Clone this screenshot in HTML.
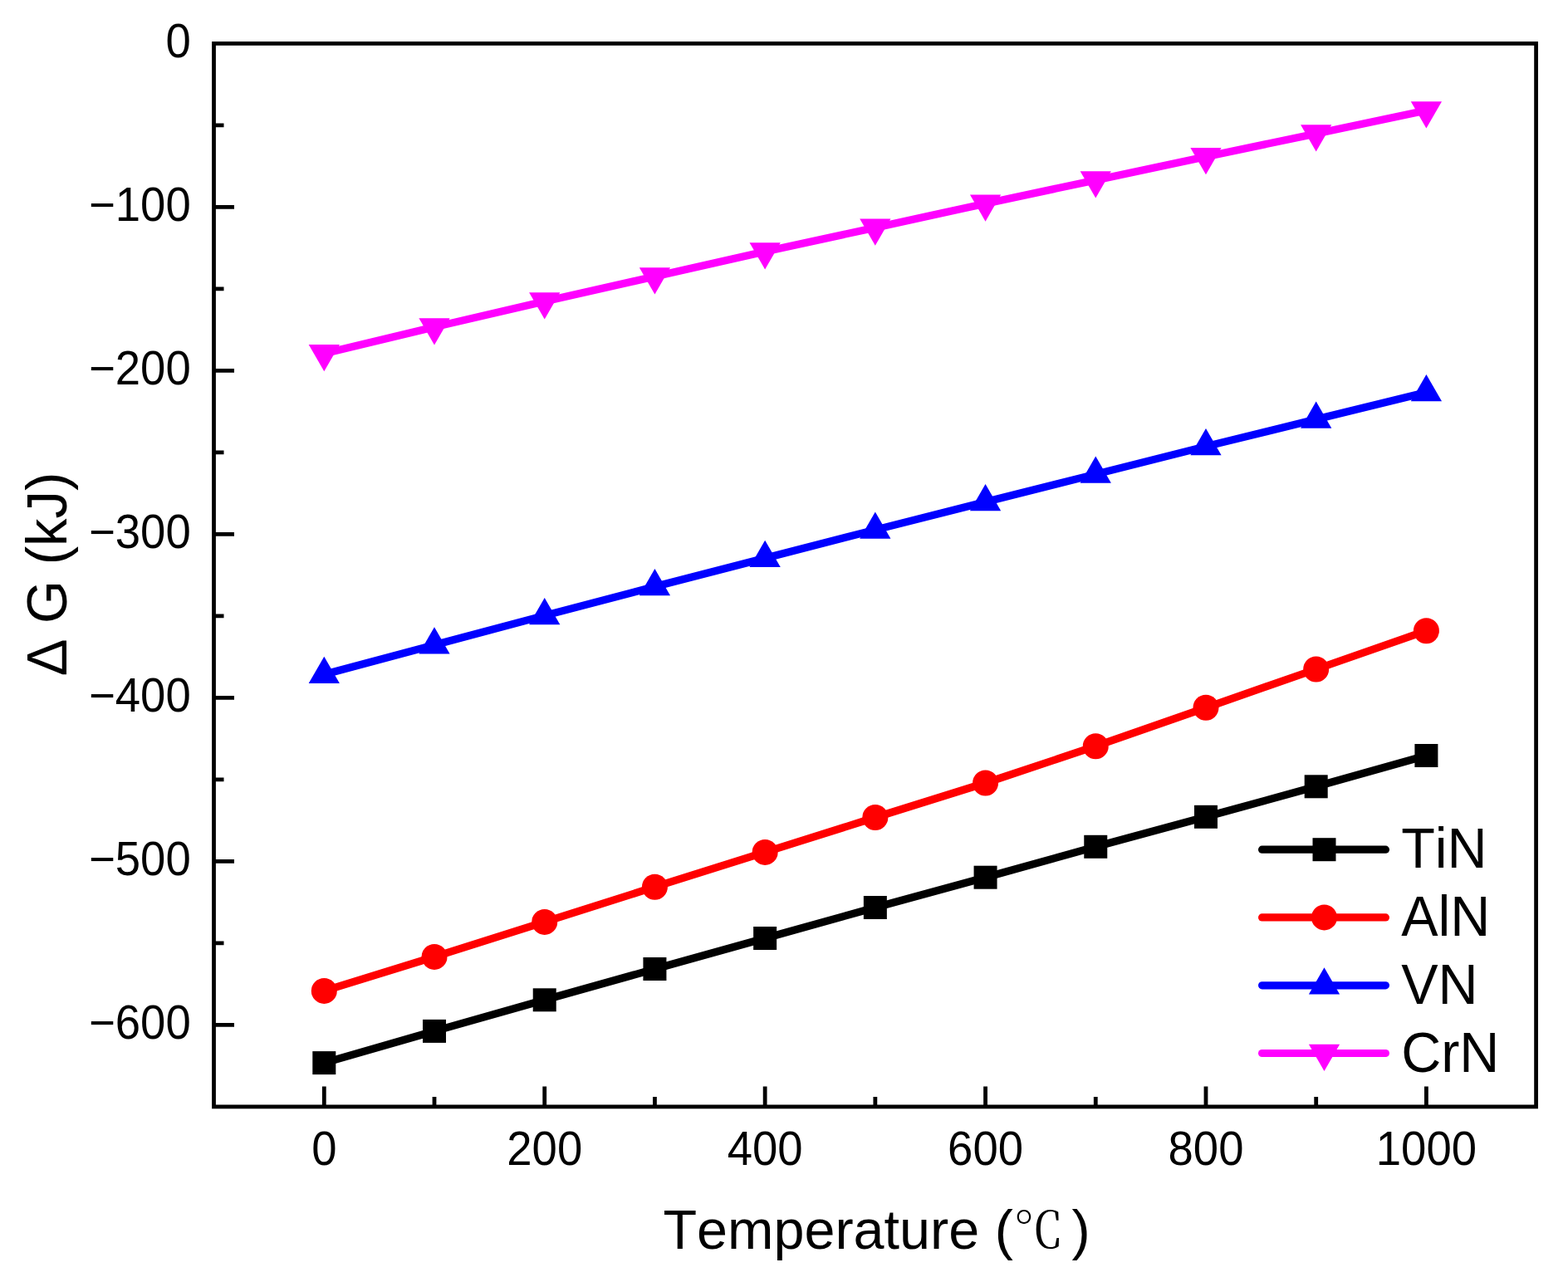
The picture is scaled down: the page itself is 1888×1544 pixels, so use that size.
<!DOCTYPE html><html><head><meta charset="utf-8"><title>Delta G vs Temperature</title><style>
html,body{margin:0;padding:0;background:#fff;overflow:hidden;}svg{display:block;}
text{font-family:"Liberation Sans",Arial,sans-serif;fill:#000;font-kerning:none;font-feature-settings:"kern" 0;}
</style></head><body>
<svg width="1888" height="1544" viewBox="0 0 1888 1544">
<rect width="1888" height="1544" fill="#fff"/>
<polyline points="390.3,1280.1 523.01,1241.9 655.72,1204.3 788.43,1167 921.14,1130 1053.85,1093 1186.56,1056.7 1319.27,1019.8 1451.98,983.8 1584.69,947.3 1717.4,910" fill="none" stroke="#000000" stroke-width="9.2" stroke-linejoin="round" stroke-linecap="butt"/>
<rect x="376.3" y="1266.1" width="28" height="28" fill="#000000"/>
<rect x="509.01" y="1227.9" width="28" height="28" fill="#000000"/>
<rect x="641.72" y="1190.3" width="28" height="28" fill="#000000"/>
<rect x="774.43" y="1153" width="28" height="28" fill="#000000"/>
<rect x="907.14" y="1116" width="28" height="28" fill="#000000"/>
<rect x="1039.85" y="1079" width="28" height="28" fill="#000000"/>
<rect x="1172.56" y="1042.7" width="28" height="28" fill="#000000"/>
<rect x="1305.27" y="1005.8" width="28" height="28" fill="#000000"/>
<rect x="1437.98" y="969.8" width="28" height="28" fill="#000000"/>
<rect x="1570.69" y="933.3" width="28" height="28" fill="#000000"/>
<rect x="1703.4" y="896" width="28" height="28" fill="#000000"/>
<polyline points="390.3,1193.4 523.01,1152.4 655.72,1110.4 788.43,1068.2 921.14,1026.4 1053.85,984.5 1186.56,943 1319.27,898.7 1451.98,852.3 1584.69,806 1717.4,759.7" fill="none" stroke="#FF0000" stroke-width="9.2" stroke-linejoin="round" stroke-linecap="butt"/>
<circle cx="390.3" cy="1193.4" r="15.5" fill="#FF0000"/>
<circle cx="523.01" cy="1152.4" r="15.5" fill="#FF0000"/>
<circle cx="655.72" cy="1110.4" r="15.5" fill="#FF0000"/>
<circle cx="788.43" cy="1068.2" r="15.5" fill="#FF0000"/>
<circle cx="921.14" cy="1026.4" r="15.5" fill="#FF0000"/>
<circle cx="1053.85" cy="984.5" r="15.5" fill="#FF0000"/>
<circle cx="1186.56" cy="943" r="15.5" fill="#FF0000"/>
<circle cx="1319.27" cy="898.7" r="15.5" fill="#FF0000"/>
<circle cx="1451.98" cy="852.3" r="15.5" fill="#FF0000"/>
<circle cx="1584.69" cy="806" r="15.5" fill="#FF0000"/>
<circle cx="1717.4" cy="759.7" r="15.5" fill="#FF0000"/>
<polyline points="390.3,812.2 523.01,776.7 655.72,741.4 788.43,706.5 921.14,672.2 1053.85,638.1 1186.56,604.5 1319.27,571.1 1451.98,537.6 1584.69,505.05 1717.4,472.5" fill="none" stroke="#0000FF" stroke-width="9.2" stroke-linejoin="round" stroke-linecap="butt"/>
<polygon points="390.3,790.7 408.92,822.95 371.68,822.95" fill="#0000FF"/>
<polygon points="523.01,755.2 541.63,787.45 504.39,787.45" fill="#0000FF"/>
<polygon points="655.72,719.9 674.34,752.15 637.1,752.15" fill="#0000FF"/>
<polygon points="788.43,685 807.05,717.25 769.81,717.25" fill="#0000FF"/>
<polygon points="921.14,650.7 939.76,682.95 902.52,682.95" fill="#0000FF"/>
<polygon points="1053.85,616.6 1072.47,648.85 1035.23,648.85" fill="#0000FF"/>
<polygon points="1186.56,583 1205.18,615.25 1167.94,615.25" fill="#0000FF"/>
<polygon points="1319.27,549.6 1337.89,581.85 1300.65,581.85" fill="#0000FF"/>
<polygon points="1451.98,516.1 1470.6,548.35 1433.36,548.35" fill="#0000FF"/>
<polygon points="1584.69,483.55 1603.31,515.8 1566.07,515.8" fill="#0000FF"/>
<polygon points="1717.4,451 1736.02,483.25 1698.78,483.25" fill="#0000FF"/>
<polyline points="390.3,425.8 523.01,393.9 655.72,362.9 788.43,333.05 921.14,303 1053.85,274.15 1186.56,245.15 1319.27,216.95 1451.98,188.7 1584.69,161 1717.4,132.9" fill="none" stroke="#FF00FF" stroke-width="9.2" stroke-linejoin="round" stroke-linecap="butt"/>
<polygon points="390.3,447.3 408.92,415.05 371.68,415.05" fill="#FF00FF"/>
<polygon points="523.01,415.4 541.63,383.15 504.39,383.15" fill="#FF00FF"/>
<polygon points="655.72,384.4 674.34,352.15 637.1,352.15" fill="#FF00FF"/>
<polygon points="788.43,354.55 807.05,322.3 769.81,322.3" fill="#FF00FF"/>
<polygon points="921.14,324.5 939.76,292.25 902.52,292.25" fill="#FF00FF"/>
<polygon points="1053.85,295.65 1072.47,263.4 1035.23,263.4" fill="#FF00FF"/>
<polygon points="1186.56,266.65 1205.18,234.4 1167.94,234.4" fill="#FF00FF"/>
<polygon points="1319.27,238.45 1337.89,206.2 1300.65,206.2" fill="#FF00FF"/>
<polygon points="1451.98,210.2 1470.6,177.95 1433.36,177.95" fill="#FF00FF"/>
<polygon points="1584.69,182.5 1603.31,150.25 1566.07,150.25" fill="#FF00FF"/>
<polygon points="1717.4,154.4 1736.02,122.15 1698.78,122.15" fill="#FF00FF"/>
<rect x="257.5" y="52.4" width="1592.1" height="1280.5" fill="none" stroke="#000" stroke-width="4.8"/>
<path d="M257.5 150.9H269.5M257.5 249.4H282M257.5 347.9H269.5M257.5 446.4H282M257.5 544.9H269.5M257.5 643.4H282M257.5 741.9H269.5M257.5 840.4H282M257.5 938.9H269.5M257.5 1037.4H282M257.5 1135.9H269.5M257.5 1234.4H282M390.3 1332.9V1308.4M523.01 1332.9V1320.9M655.72 1332.9V1308.4M788.43 1332.9V1320.9M921.14 1332.9V1308.4M1053.85 1332.9V1320.9M1186.56 1332.9V1308.4M1319.27 1332.9V1320.9M1451.98 1332.9V1308.4M1584.69 1332.9V1320.9M1717.4 1332.9V1308.4" stroke="#000" stroke-width="4.8" fill="none"/>
<text transform="translate(229.7 69) scale(1 1.04)" font-size="54.5" text-anchor="end">0</text>
<text transform="translate(229.7 266) scale(1 1.04)" font-size="54.5" text-anchor="end">−100</text>
<text transform="translate(229.7 463) scale(1 1.04)" font-size="54.5" text-anchor="end">−200</text>
<text transform="translate(229.7 660) scale(1 1.04)" font-size="54.5" text-anchor="end">−300</text>
<text transform="translate(229.7 857) scale(1 1.04)" font-size="54.5" text-anchor="end">−400</text>
<text transform="translate(229.7 1054) scale(1 1.04)" font-size="54.5" text-anchor="end">−500</text>
<text transform="translate(229.7 1251) scale(1 1.04)" font-size="54.5" text-anchor="end">−600</text>
<text transform="translate(390.3 1402.9) scale(1 1.04)" font-size="54.5" text-anchor="middle">0</text>
<text transform="translate(655.72 1402.9) scale(1 1.04)" font-size="54.5" text-anchor="middle">200</text>
<text transform="translate(921.14 1402.9) scale(1 1.04)" font-size="54.5" text-anchor="middle">400</text>
<text transform="translate(1186.56 1402.9) scale(1 1.04)" font-size="54.5" text-anchor="middle">600</text>
<text transform="translate(1451.98 1402.9) scale(1 1.04)" font-size="54.5" text-anchor="middle">800</text>
<text transform="translate(1717.4 1402.9) scale(1 1.04)" font-size="54.5" text-anchor="middle">1000</text>
<text transform="translate(798.5 1504.3)" font-size="66.5" text-anchor="start">Temperature (</text>
<text transform="translate(1220.2 1503.3)" font-size="60.5" style="font-family:'Liberation Serif','Noto Serif CJK SC',serif">℃</text>
<text transform="translate(1290.5 1504.3)" font-size="66.5" text-anchor="start">)</text>
<text transform="translate(80.0 691.5) rotate(-90) scale(1 1.02)" font-size="67" text-anchor="middle">Δ G (kJ)</text>
<line x1="1519.6" y1="1023.2" x2="1668.4" y2="1023.2" stroke="#000000" stroke-width="9.2" stroke-linecap="round"/>
<rect x="1580.5" y="1009.2" width="28" height="28" fill="#000000"/>
<text transform="translate(1687.2 1044.9) scale(1 1.04)" font-size="66.5" text-anchor="start">TiN</text>
<line x1="1519.6" y1="1104.9" x2="1668.4" y2="1104.9" stroke="#FF0000" stroke-width="9.2" stroke-linecap="round"/>
<circle cx="1594.5" cy="1104.9" r="15.5" fill="#FF0000"/>
<text transform="translate(1687.2 1126.8) scale(1 1.04)" font-size="66.5" text-anchor="start">AlN</text>
<line x1="1519.6" y1="1186.8" x2="1668.4" y2="1186.8" stroke="#0000FF" stroke-width="9.2" stroke-linecap="round"/>
<polygon points="1594.5,1165.3 1613.12,1197.55 1575.88,1197.55" fill="#0000FF"/>
<text transform="translate(1687.2 1208.9) scale(1 1.04)" font-size="66.5" text-anchor="start">VN</text>
<line x1="1519.6" y1="1268.5" x2="1668.4" y2="1268.5" stroke="#FF00FF" stroke-width="9.2" stroke-linecap="round"/>
<polygon points="1594.5,1290 1613.12,1257.75 1575.88,1257.75" fill="#FF00FF"/>
<text transform="translate(1687.2 1290.9) scale(1 1.04)" font-size="66.5" text-anchor="start">CrN</text>
</svg></body></html>
